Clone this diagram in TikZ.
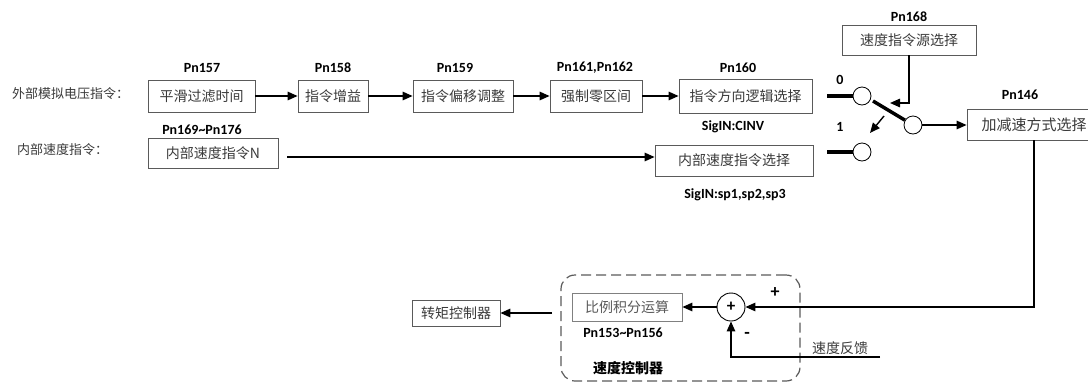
\documentclass[tikz,border=0pt]{standalone}
\usepackage{fontspec}
\setmainfont{Carlito}
\newfontfamily\cjk{Noto Sans CJK SC}
\usetikzlibrary{arrows.meta}
\definecolor{boxgray}{HTML}{5A5A5A}
\definecolor{txtgray}{HTML}{3A3A3A}
\definecolor{ltgray}{HTML}{808080}
\begin{document}
\begin{tikzpicture}[x=1pt,y=-1pt,
  blk/.style={draw=boxgray, line width=0.8pt, inner sep=0pt, minimum height=32pt,
    font=\cjk\fontsize{14}{14}\selectfont, text=txtgray},
  lbl/.style={font=\cjk\fontsize{13}{13}\selectfont, text=txtgray, inner sep=0pt},
  pn/.style={font=\bfseries\fontsize{14}{14}\selectfont, inner sep=0pt},
  conn/.style={line width=1.4pt, -{Triangle[length=10pt,width=8.5pt]}},
  thk/.style={line width=3.5pt},
  swc/.style={circle, draw, line width=0.8pt, minimum size=18pt, inner sep=0pt}]
\useasboundingbox (0,0) rectangle (1088,381);

% labels on the left
\node[lbl, anchor=west] (ta) at (12,94) {外部模拟电压指令：};
\node[lbl, anchor=west] (tb) at (17,150) {内部速度指令：};

% first row
\node[blk, minimum width=107pt] (b1) at (201.5,96) {平滑过滤时间};
\node[blk, minimum width=70pt] (b2) at (333,96) {指令增益};
\node[blk, minimum width=100pt] (b3) at (463,96) {指令偏移调整};
\node[blk, minimum width=92pt] (b4) at (596,96) {强制零区间};
\node[blk, minimum width=133pt, minimum height=34pt] (b5) at (745.5,96) {指令方向逻辑选择};
\node[pn] (p157) at (202,68) {Pn157};
\node[pn] (p158) at (333,68) {Pn158};
\node[pn] (p159) at (455,68) {Pn159};
\node[pn] (p161) at (595,68) {Pn161,Pn162};
\node[pn] (p160) at (738,68) {Pn160};
\node[pn] (pcinv) at (733,127) {SigIN:CINV};
\draw[conn] (b1) -- (b2);
\draw[conn] (b2) -- (b3);
\draw[conn] (b3) -- (b4);
\draw[conn] (b4) -- (b5);

% second row
\node[blk, minimum width=130pt, minimum height=30pt] (b6) at (213,153) {内部速度指令N};
\node[pn] (p169) at (202,130) {Pn169\textasciitilde Pn176};
\node[blk, minimum width=158pt, minimum height=31pt] (b7) at (734,160.5) {内部速度指令选择};
\node[pn] (psp) at (735,195) {SigIN:sp1,sp2,sp3};
\coordinate (s6) at (287,157);
\draw[conn] (s6) -- (s6 -| b7.west);

% switch
\node[swc] (c0) at (862,96) {};
\node[swc] (c1) at (862,152) {};
\node[swc] (cm) at (913,125) {};
\coordinate (l0) at (827,96);
\coordinate (l1) at (827,152);
\draw[thk] (l0) -- (c0);
\draw[thk] (l1) -- (c1);
\coordinate (bladeA) at (873,101);
\draw[thk] (bladeA) -- (cm);
\node[pn] (n0) at (840,80) {0};
\node[pn] (n1) at (840,127) {1};
\coordinate (sa) at (884,116);
\coordinate (sb) at (870,133);
\draw[conn] (sa) -- (sb);

% source select
\node[blk, minimum width=134pt, minimum height=30pt] (b9) at (909,40) {速度指令源选择};
\node[pn] (p168) at (909,17) {Pn168};
\coordinate (tipA) at (890,103);
\draw[conn] (b9.south) |- (tipA);

% accel/decel
\node[blk, minimum width=134pt, minimum height=31pt, font=\cjk\fontsize{15}{15}\selectfont] (b8) at (1034,124.5) {加减速方式选择};
\node[pn] (p146) at (1020,95) {Pn146};
\draw[conn] (cm) -- (cm -| b8.west);

% speed controller
\node[draw=boxgray, dashed, dash pattern=on 10pt off 5pt, line width=1.2pt, rounded corners=14pt,
  minimum width=239pt, minimum height=106pt, inner sep=0pt] (ctrl) at (680.5,328) {};
\node[blk, draw=ltgray, minimum width=110pt, minimum height=28pt, text=boxgray] (b10) at (627,307) {比例积分运算};
\node[pn] (p153) at (623,333) {Pn153\textasciitilde Pn156};
\node[circle, draw, line width=0.9pt, minimum size=28pt, inner sep=0pt, font=\bfseries\fontsize{17}{17}\selectfont] (sum) at (731,307) {+};
\node[pn, font=\bfseries\fontsize{18}{18}\selectfont] (plus) at (775,293) {+};
\node[pn, font=\bfseries\fontsize{18}{18}\selectfont] (minus) at (747,335) {-};
\node[lbl, font=\cjk\fontsize{14}{14}\selectfont] (fbl) at (840,348) {速度反馈};
\node[lbl, text=black, font=\cjk\bfseries\fontsize{14}{14}\selectfont] (sctl) at (628,368) {速度控制器};
\draw[conn] (b8.south) |- (sum.east);
\coordinate (fb) at (880,357);
\draw[conn] (fb) -| (sum.south);
\draw[conn] (sum) -- (b10);

\node[blk, minimum width=88pt, minimum height=26pt] (b11) at (456,313) {转矩控制器};
\coordinate (s11) at (552,313);
\draw[conn] (s11) -- (b11.east);
\end{tikzpicture}
\end{document}
